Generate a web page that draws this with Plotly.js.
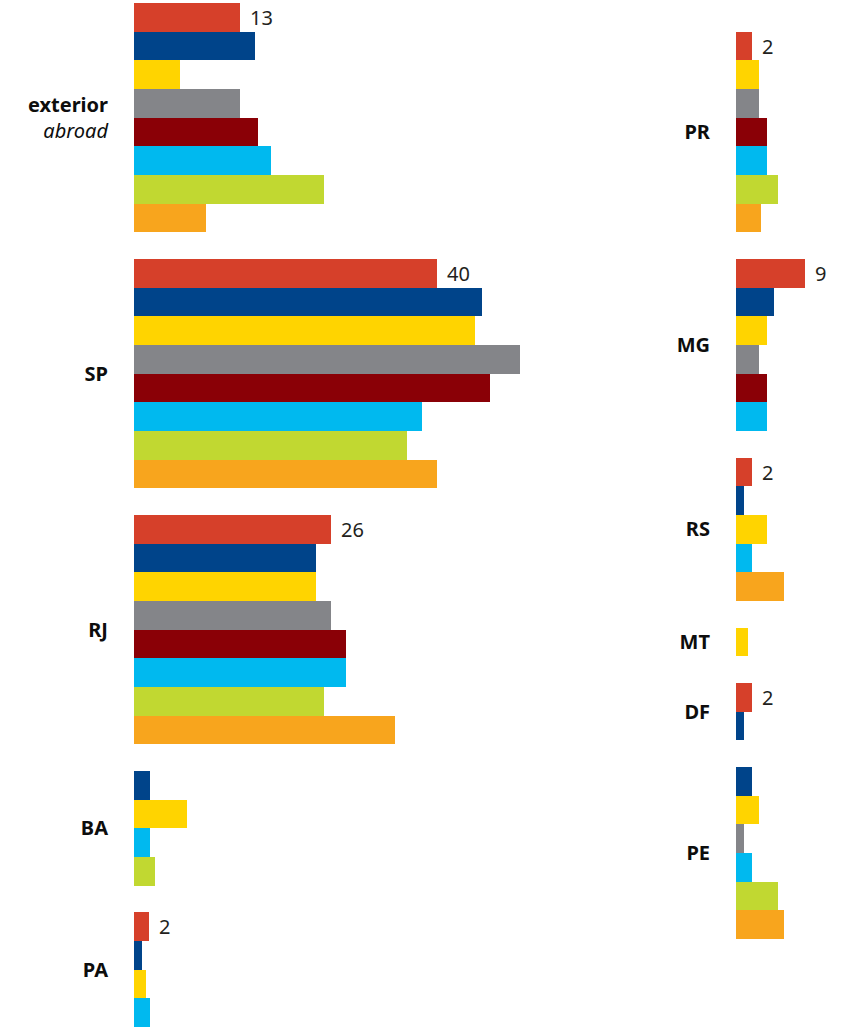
<!DOCTYPE html>
<html>
<head>
<meta charset="utf-8">
<script src="https://cdn.plot.ly/plotly-3.0.1.min.js"></script>
<style>
  html, body { margin: 0; padding: 0; background: #ffffff; }
  #chart { width: 846px; height: 1031px; }
</style>
</head>
<body>
<div id="chart"></div>
<script>
// ---------- DATA ----------
const categories = ['exterior', 'SP', 'RJ', 'BA', 'PA', 'PR', 'MG', 'RS', 'MT', 'DF', 'PE'];
const tickLabels = ['<b>exterior</b><br><i>abroad</i>', '<b>SP</b>', '<b>RJ</b>', '<b>BA</b>', '<b>PA</b>',
                    '<b>PR</b>', '<b>MG</b>', '<b>RS</b>', '<b>MT</b>', '<b>DF</b>', '<b>PE</b>'];
const leftColumn  = ['exterior', 'SP', 'RJ', 'BA', 'PA'];
const rightColumn = ['PR', 'MG', 'RS', 'MT', 'DF', 'PE'];

const seriesRed       = [14.0, 40.0, 26.0, null, 2.0, 2.1, 9.1, 2.1, null, 2.1, null];
const seriesBlue      = [16.0, 46.0, 24.0, 2.1, 1.0, null, 5.0, 1.1, null, 1.1, 2.1];
const seriesYellow    = [6.1, 45.0, 24.0, 7.0, 1.6, 3.0, 4.1, 4.1, 1.6, null, 3.0];
const seriesGray      = [14.0, 51.0, 26.0, null, null, 3.0, 3.0, null, null, null, 1.1];
const seriesDarkRed   = [16.4, 47.0, 28.0, null, null, 4.1, 4.1, null, null, null, null];
const seriesLightBlue = [18.1, 38.0, 28.0, 2.1, 2.1, 4.1, 4.1, 2.1, null, null, 2.1];
const seriesGreen     = [25.1, 36.1, 25.1, 2.8, null, 5.5, null, null, null, null, 5.5];
const seriesOrange    = [9.5, 40.0, 34.5, null, null, 3.3, null, 6.3, null, null, 6.3];

const redValueLabels  = ['13', '40', '26', null, '2', '2', '9', '2', null, '2', null];

// ---------- STYLE ----------
const series = [
  { values: seriesRed,       color: '#D6402A' },
  { values: seriesBlue,      color: '#00448A' },
  { values: seriesYellow,    color: '#FFD400' },
  { values: seriesGray,      color: '#848589' },
  { values: seriesDarkRed,   color: '#8A0006' },
  { values: seriesLightBlue, color: '#00B9EF' },
  { values: seriesGreen,     color: '#C1D831' },
  { values: seriesOrange,    color: '#F8A51D' }
];

const W = 846, H = 1031;
const ROW_PX = 28.67;      // pixel height of one bar row
const GROUP_GAP = 0.93;    // gap between groups, in rows
const TOP_PX = 3;          // top offset of first row
const PX_PER_UNIT = 7.571; // horizontal scale
const LEFT_X0 = 134, LEFT_X1 = 600;
const RIGHT_X0 = 736, RIGHT_X1 = 846;
const RIGHT_START_ROW = 1;

const FONT = '"Noto Sans", "Open Sans", sans-serif';

// ---------- LAYOUT OF ROWS (computed from data) ----------
function placeColumn(cols, startRow) {
  const pos = series.map(() => ({}));
  const centers = {};
  let row = startRow;
  cols.forEach(cat => {
    const ci = categories.indexOf(cat);
    const g0 = row;
    series.forEach((s, si) => {
      if (s.values[ci] !== null && s.values[ci] !== undefined) {
        pos[si][cat] = row + 0.5;
        row += 1;
      }
    });
    centers[cat] = (g0 + row) / 2;
    row += GROUP_GAP;
  });
  return { pos, centers };
}

const leftPlace = placeColumn(leftColumn, 0);
const rightPlace = placeColumn(rightColumn, RIGHT_START_ROW);

const traces = [];
const annotations = [];
function buildColumn(cols, place, xa, ya) {
  series.forEach((s, si) => {
    const xs = [], ys = [];
    cols.forEach(cat => {
      const ci = categories.indexOf(cat);
      if (s.values[ci] !== null && s.values[ci] !== undefined) {
        xs.push(s.values[ci]);
        ys.push(place.pos[si][cat]);
      }
    });
    traces.push({
      type: 'bar', orientation: 'h', x: xs, y: ys, width: 1,
      xaxis: xa, yaxis: ya,
      marker: { color: s.color, line: { width: 0 } },
      hoverinfo: 'skip', showlegend: false
    });
  });
  cols.forEach(cat => {
    const ci = categories.indexOf(cat);
    if (redValueLabels[ci] !== null) {
      annotations.push({
        xref: xa, yref: ya, x: seriesRed[ci], y: place.pos[0][cat],
        text: redValueLabels[ci], showarrow: false, xanchor: 'left', yanchor: 'middle',
        xshift: 8, font: { family: FONT, size: 20, color: '#231F20' }
      });
    }
  });
}
buildColumn(leftColumn, leftPlace, 'x', 'y');
buildColumn(rightColumn, rightPlace, 'x2', 'y2');

const yRange = [(H - TOP_PX) / ROW_PX, -TOP_PX / ROW_PX];

function yAxis(cols, place, anchor) {
  return {
    anchor: anchor, domain: [0, 1], range: yRange, autorange: false,
    tickmode: 'array',
    tickvals: cols.map(c => place.centers[c]),
    ticktext: cols.map(c => tickLabels[categories.indexOf(c)]),
    tickfont: { family: FONT, size: 20, color: '#0d0d0d' },
    ticks: '', ticklabelstandoff: 25,
    showgrid: false, zeroline: false, showline: false, automargin: false, fixedrange: true
  };
}
function xAxis(x0, x1, anchor) {
  return {
    anchor: anchor, domain: [x0 / W, x1 / W], range: [0, (x1 - x0) / PX_PER_UNIT], autorange: false,
    showgrid: false, zeroline: false, showline: false, showticklabels: false, ticks: '',
    automargin: false, fixedrange: true
  };
}

const layout = {
  width: W, height: H,
  margin: { l: 0, r: 0, t: 0, b: 0, pad: 0 },
  paper_bgcolor: '#ffffff', plot_bgcolor: 'rgba(0,0,0,0)',
  barmode: 'overlay', bargap: 0,
  xaxis: xAxis(LEFT_X0, LEFT_X1, 'y'),
  yaxis: yAxis(leftColumn, leftPlace, 'x'),
  xaxis2: xAxis(RIGHT_X0, RIGHT_X1, 'y2'),
  yaxis2: yAxis(rightColumn, rightPlace, 'x2'),
  annotations: annotations,
  showlegend: false
};

Plotly.newPlot('chart', traces, layout, { displayModeBar: false, staticPlot: true });
</script>
</body>
</html>
